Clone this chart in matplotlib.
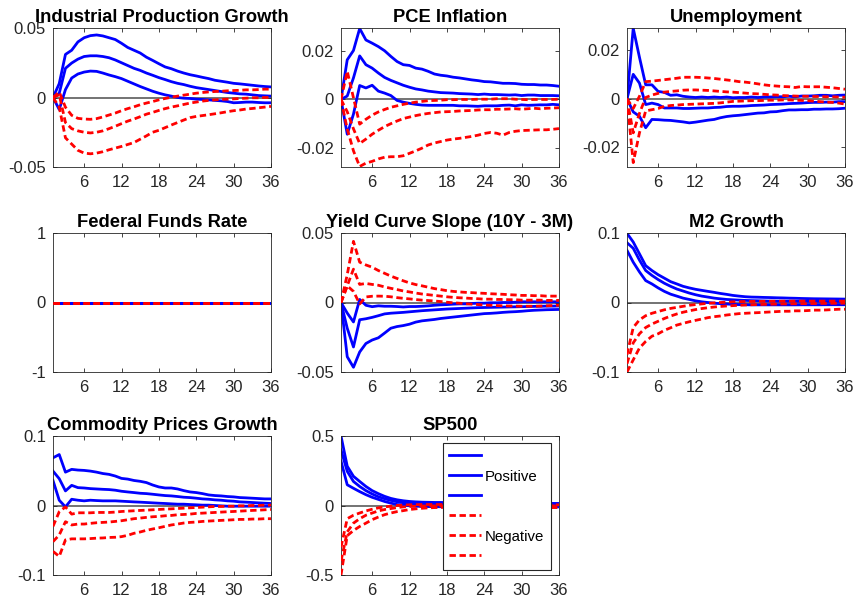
import numpy as np
import matplotlib
matplotlib.use('Agg')
import matplotlib.pyplot as plt
from matplotlib.ticker import FuncFormatter

plt.rcParams['font.family'] = ['Liberation Sans', 'DejaVu Sans']

# impulse responses, horizons 1..36 (upper / median / lower bands)
horizon = np.arange(1, 37)

ip_pos_hi = [0, 0.010, 0.031, 0.034, 0.040, 0.043, 0.0445, 0.045, 0.0443, 0.043, 0.0417, 0.039, 0.036, 0.034, 0.032, 0.029, 0.0267, 0.0243, 0.022, 0.0207, 0.019, 0.0176, 0.0164, 0.0155, 0.0145, 0.0136, 0.0124, 0.0117, 0.011, 0.0102, 0.0098, 0.0093, 0.0088, 0.0083, 0.0079, 0.0076]
ip_pos_mid = [0, 0.003, 0.021, 0.0248, 0.0276, 0.0295, 0.030, 0.030, 0.0295, 0.0286, 0.027, 0.025, 0.023, 0.021, 0.0195, 0.0176, 0.016, 0.0143, 0.0129, 0.0114, 0.0102, 0.0093, 0.0081, 0.0071, 0.0064, 0.0057, 0.005, 0.0043, 0.0036, 0.0031, 0.0026, 0.0024, 0.0019, 0.0014, 0.0012, 0.001]
ip_pos_lo = [0, -0.0086, 0.0057, 0.014, 0.0169, 0.0183, 0.019, 0.0188, 0.0176, 0.0162, 0.015, 0.0136, 0.0117, 0.0098, 0.0079, 0.0062, 0.0045, 0.0031, 0.0019, 0.001, 0.0, -0.0005, -0.0007, -0.0012, -0.0014, -0.0017, -0.0021, -0.0024, -0.0029, -0.0038, -0.0036, -0.0033, -0.0033, -0.0036, -0.0038, -0.0038]
ip_neg_hi = [0, 0.004, -0.007, -0.0128, -0.015, -0.0155, -0.0157, -0.0152, -0.014, -0.0126, -0.0112, -0.0095, -0.008, -0.0067, -0.0052, -0.004, -0.0029, -0.0017, -0.0007, 0.0002, 0.001, 0.0017, 0.0024, 0.0031, 0.0036, 0.004, 0.0043, 0.0045, 0.0048, 0.005, 0.0052, 0.0055, 0.0055, 0.0057, 0.006, 0.006]
ip_neg_mid = [0, 0.002, -0.018, -0.0224, -0.024, -0.025, -0.0255, -0.025, -0.024, -0.0224, -0.0207, -0.0188, -0.017, -0.0155, -0.0138, -0.012, -0.0107, -0.0093, -0.008, -0.0069, -0.006, -0.005, -0.004, -0.0033, -0.0026, -0.0021, -0.0017, -0.0014, -0.0012, -0.001, -0.0007, -0.0005, -0.0002, -0.0002, 0.0, 0.0]
ip_neg_lo = [0, -0.007, -0.029, -0.0335, -0.038, -0.040, -0.0405, -0.040, -0.039, -0.0376, -0.0364, -0.0352, -0.0338, -0.0324, -0.030, -0.0276, -0.025, -0.0236, -0.0217, -0.0198, -0.018, -0.0162, -0.0145, -0.0136, -0.013, -0.0124, -0.0117, -0.011, -0.0102, -0.0095, -0.009, -0.0083, -0.0079, -0.0074, -0.0069, -0.0064]

pce_pos_hi = [0, 0.0162, 0.020, 0.029, 0.0243, 0.023, 0.0216, 0.0199, 0.0176, 0.0155, 0.0142, 0.0139, 0.0128, 0.0124, 0.0115, 0.0104, 0.0099, 0.0096, 0.0091, 0.0088, 0.0084, 0.008, 0.0077, 0.0073, 0.0072, 0.0069, 0.0066, 0.0066, 0.0065, 0.0062, 0.0061, 0.0061, 0.0059, 0.0059, 0.0057, 0.0054]
pce_pos_mid = [0, 0.0014, 0.0088, 0.0178, 0.0142, 0.0128, 0.0108, 0.009, 0.0078, 0.0068, 0.0058, 0.005, 0.0043, 0.0039, 0.0034, 0.0031, 0.0028, 0.0027, 0.0026, 0.0024, 0.0023, 0.0022, 0.002, 0.0022, 0.002, 0.002, 0.0019, 0.0018, 0.0019, 0.0016, 0.0018, 0.0018, 0.0016, 0.0016, 0.0016, 0.0015]
pce_pos_lo = [0, -0.0142, -0.006, 0.0057, 0.0047, 0.0058, 0.0034, 0.0026, 0.0016, -0.0004, -0.0011, -0.0016, -0.002, -0.0023, -0.0024, -0.0024, -0.0024, -0.0024, -0.0024, -0.0026, -0.0026, -0.0027, -0.0028, -0.0026, -0.0026, -0.0026, -0.0024, -0.0023, -0.0026, -0.0022, -0.0024, -0.0023, -0.0022, -0.0022, -0.002, -0.0022]
pce_neg_hi = [0, 0.0115, 0.0007, -0.0101, -0.0081, -0.0064, -0.0051, -0.0041, -0.0032, -0.0026, -0.002, -0.0015, -0.0011, -0.0008, -0.0005, -0.0004, -0.0003, -0.0001, -0.0001, 0.0, 0.0, 0.0, 0.0001, 0.0001, 0.0001, 0.0003, 0.0003, 0.0003, 0.0001, 0.0, -0.0001, 0.0, 0.0, 0.0, 0.0, 0.0001]
pce_neg_mid = [0, -0.005, -0.012, -0.018, -0.0162, -0.0142, -0.0126, -0.0111, -0.0099, -0.0088, -0.0078, -0.0072, -0.0066, -0.0061, -0.0057, -0.0054, -0.0051, -0.005, -0.0049, -0.0047, -0.0046, -0.0045, -0.0043, -0.0042, -0.0042, -0.004, -0.004, -0.0039, -0.0038, -0.004, -0.0038, -0.0036, -0.0038, -0.0036, -0.0035, -0.0034]
pce_neg_lo = [0, -0.012, -0.021, -0.0274, -0.026, -0.0253, -0.0243, -0.0236, -0.0234, -0.0234, -0.023, -0.022, -0.021, -0.0199, -0.0186, -0.0178, -0.0172, -0.0166, -0.0162, -0.0159, -0.0155, -0.0151, -0.0146, -0.0139, -0.0135, -0.0138, -0.0146, -0.0135, -0.013, -0.0127, -0.0126, -0.0125, -0.0124, -0.0124, -0.0122, -0.0119]

un_pos_hi = [0, 0.0289, 0.017, 0.0057, 0.0057, 0.003, 0.0026, 0.0014, 0.0016, 0.001, 0.0007, 0.0005, 0.0007, 0.0005, 0.0007, 0.0005, 0.0007, 0.0004, 0.0005, 0.0005, 0.0007, 0.0005, 0.0007, 0.0007, 0.0008, 0.0008, 0.001, 0.0008, 0.0011, 0.0011, 0.0012, 0.0014, 0.0014, 0.0012, 0.0014, 0.0015]
un_pos_mid = [0, 0.010, 0.0064, -0.0024, -0.0018, -0.0024, -0.0038, -0.0038, -0.0038, -0.004, -0.004, -0.0039, -0.0038, -0.0038, -0.0036, -0.0035, -0.0032, -0.0031, -0.0031, -0.003, -0.0028, -0.0027, -0.0026, -0.0024, -0.0023, -0.0022, -0.002, -0.0019, -0.0018, -0.0016, -0.0015, -0.0015, -0.0014, -0.0014, -0.0012, -0.0012]
un_pos_lo = [0, -0.0054, -0.0072, -0.0119, -0.0085, -0.0086, -0.0088, -0.0089, -0.0092, -0.0095, -0.0099, -0.0096, -0.0092, -0.0088, -0.0085, -0.0078, -0.0073, -0.007, -0.0068, -0.0065, -0.0062, -0.0059, -0.0058, -0.0054, -0.0053, -0.0049, -0.0046, -0.0046, -0.0045, -0.0045, -0.0043, -0.0043, -0.0042, -0.0042, -0.0041, -0.0039]
un_neg_hi = [0, -0.004, 0.001, 0.007, 0.0072, 0.0075, 0.0078, 0.0081, 0.0084, 0.0088, 0.0088, 0.0088, 0.0087, 0.0085, 0.0083, 0.008, 0.0077, 0.0074, 0.007, 0.0068, 0.0065, 0.0061, 0.0057, 0.0054, 0.0052, 0.005, 0.0049, 0.0046, 0.005, 0.0049, 0.0049, 0.0049, 0.0047, 0.0045, 0.0042, 0.0039]
un_neg_mid = [0, -0.014, -0.006, 0.0005, 0.0015, 0.0022, 0.0027, 0.003, 0.0032, 0.0035, 0.0036, 0.0036, 0.0035, 0.0034, 0.0032, 0.003, 0.0028, 0.0027, 0.0025, 0.0023, 0.0021, 0.002, 0.0018, 0.0016, 0.0015, 0.0013, 0.0012, 0.0011, 0.001, 0.001, 0.0009, 0.0009, 0.0008, 0.0008, 0.0007, 0.0006]
un_neg_lo = [0, -0.0262, -0.014, -0.005, -0.0045, -0.004, -0.0031, -0.0028, -0.0026, -0.0024, -0.0023, -0.0022, -0.0021, -0.002, -0.0019, -0.0017, -0.0014, -0.0011, -0.001, -0.0009, -0.0008, -0.0008, -0.0007, -0.0006, -0.0006, -0.0005, -0.0005, -0.0006, -0.0007, -0.0008, -0.001, -0.0012, -0.0014, -0.0015, -0.0018, -0.0022]

# the funds rate is the shock variable: flat at zero
ffr_irf = [0, 0, 0, 0, 0, 0, 0, 0, 0, 0, 0, 0, 0, 0, 0, 0, 0, 0, 0, 0, 0, 0, 0, 0, 0, 0, 0, 0, 0, 0, 0, 0, 0, 0, 0, 0]

yc_pos_hi = [0, -0.0076, -0.014, 0.0022, -0.002, -0.003, -0.0024, -0.0027, -0.0027, -0.0029, -0.0032, -0.0029, -0.0029, -0.0027, -0.0024, -0.002, -0.0017, -0.0015, -0.0012, -0.001, -0.001, -0.0007, -0.0005, -0.0005, -0.0002, -0.0002, 0.0, 0.0, 0.0002, 0.0005, 0.0005, 0.0005, 0.0005, 0.0005, 0.0005, 0.0005]
yc_pos_mid = [0, -0.0185, -0.032, -0.0124, -0.0117, -0.0107, -0.0095, -0.0082, -0.0077, -0.0074, -0.0071, -0.0067, -0.0063, -0.0059, -0.0056, -0.0053, -0.005, -0.0047, -0.0045, -0.0043, -0.0041, -0.0039, -0.0037, -0.0036, -0.0035, -0.0034, -0.0033, -0.0032, -0.0031, -0.003, -0.0029, -0.0028, -0.0027, -0.0026, -0.0026, -0.0025]
yc_pos_lo = [0, -0.039, -0.0466, -0.0356, -0.0295, -0.027, -0.0254, -0.022, -0.0185, -0.0173, -0.0166, -0.0156, -0.0141, -0.0132, -0.0127, -0.0122, -0.0115, -0.011, -0.0105, -0.01, -0.0095, -0.009, -0.0085, -0.008, -0.0078, -0.0075, -0.0071, -0.0068, -0.0066, -0.0063, -0.0059, -0.0056, -0.0054, -0.0052, -0.0051, -0.005]
yc_neg_hi = [0, 0.02, 0.044, 0.029, 0.027, 0.0254, 0.023, 0.021, 0.019, 0.0173, 0.0156, 0.0141, 0.0129, 0.012, 0.011, 0.010, 0.0093, 0.0085, 0.008, 0.0076, 0.0073, 0.0071, 0.0068, 0.0066, 0.0063, 0.0061, 0.0059, 0.0056, 0.0054, 0.0051, 0.0051, 0.0049, 0.0049, 0.0046, 0.0046, 0.0046]
yc_neg_mid = [0, 0.012, 0.024, 0.013, 0.0137, 0.013, 0.0124, 0.0112, 0.0102, 0.0093, 0.0083, 0.0076, 0.0068, 0.0061, 0.0056, 0.0051, 0.0046, 0.0041, 0.0037, 0.0034, 0.0032, 0.0029, 0.0027, 0.0024, 0.0024, 0.0022, 0.0022, 0.002, 0.002, 0.0017, 0.0017, 0.0017, 0.0017, 0.0015, 0.0015, 0.0015]
yc_neg_lo = [0, 0.012, 0.008, -0.001, 0.004, 0.0045, 0.0046, 0.0045, 0.0041, 0.0035, 0.003, 0.0026, 0.0021, 0.0017, 0.0014, 0.0011, 0.0007, 0.0002, -0.0002, -0.0005, -0.0009, -0.0012, -0.0015, -0.0018, -0.002, -0.0022, -0.0024, -0.0025, -0.0026, -0.0027, -0.0027, -0.0027, -0.0026, -0.0024, -0.0022, -0.002]

m2_pos_hi = [0.0995, 0.087, 0.070, 0.053, 0.046, 0.040, 0.035, 0.030, 0.0267, 0.0233, 0.021, 0.019, 0.0175, 0.016, 0.0146, 0.013, 0.0117, 0.0102, 0.0092, 0.0083, 0.0078, 0.0076, 0.0073, 0.0071, 0.0068, 0.0066, 0.0063, 0.0061, 0.0058, 0.0056, 0.0054, 0.0053, 0.0052, 0.0051, 0.005, 0.0049]
m2_pos_mid = [0.086, 0.078, 0.061, 0.046, 0.039, 0.033, 0.0277, 0.0233, 0.0194, 0.0165, 0.0136, 0.0112, 0.0092, 0.0078, 0.0063, 0.0053, 0.0044, 0.0039, 0.0034, 0.003, 0.0027, 0.0025, 0.0022, 0.002, 0.0019, 0.0018, 0.0018, 0.0017, 0.0017, 0.0016, 0.0016, 0.0016, 0.0015, 0.0015, 0.0015, 0.0015]
m2_pos_lo = [0.075, 0.058, 0.044, 0.0315, 0.0267, 0.021, 0.016, 0.012, 0.0092, 0.0063, 0.0044, 0.0024, 0.001, 0.0, -0.001, -0.0017, -0.0022, -0.0027, -0.003, -0.0032, -0.0034, -0.0034, -0.0034, -0.0034, -0.0034, -0.0034, -0.0034, -0.0034, -0.0033, -0.0033, -0.0033, -0.0033, -0.0032, -0.0032, -0.0032, -0.0032]
m2_neg_hi = [-0.075, -0.036, -0.025, -0.019, -0.0155, -0.013, -0.0105, -0.0085, -0.007, -0.0055, -0.004, -0.003, -0.002, -0.0012, -0.0005, 0.0, 0.0005, 0.001, 0.0012, 0.0014, 0.0015, 0.0016, 0.0017, 0.0018, 0.0018, 0.0019, 0.0019, 0.002, 0.002, 0.002, 0.002, 0.002, 0.002, 0.002, 0.002, 0.002]
m2_neg_mid = [-0.088, -0.058, -0.045, -0.036, -0.031, -0.027, -0.023, -0.0195, -0.0165, -0.014, -0.012, -0.0102, -0.0087, -0.0075, -0.0065, -0.0057, -0.005, -0.0045, -0.004, -0.0036, -0.0032, -0.003, -0.0027, -0.0025, -0.0023, -0.0021, -0.002, -0.0018, -0.0017, -0.0016, -0.0015, -0.0014, -0.0013, -0.0012, -0.0011, -0.001]
m2_neg_lo = [-0.1, -0.0825, -0.0655, -0.056, -0.0485, -0.045, -0.040, -0.0364, -0.0325, -0.030, -0.0277, -0.0257, -0.0238, -0.0218, -0.0204, -0.0194, -0.018, -0.017, -0.016, -0.0155, -0.015, -0.0146, -0.0141, -0.0136, -0.0131, -0.0126, -0.0126, -0.012, -0.012, -0.0116, -0.011, -0.011, -0.0107, -0.0102, -0.0097, -0.0097]

com_pos_hi = [0.0686, 0.0733, 0.048, 0.052, 0.051, 0.0505, 0.0495, 0.048, 0.046, 0.0448, 0.0424, 0.039, 0.038, 0.036, 0.0348, 0.033, 0.0295, 0.0267, 0.0252, 0.0252, 0.0238, 0.0214, 0.0195, 0.0186, 0.0171, 0.0152, 0.0143, 0.0138, 0.0129, 0.0124, 0.0114, 0.011, 0.0105, 0.01, 0.0095, 0.0095]
com_pos_mid = [0.0495, 0.0386, 0.021, 0.029, 0.0257, 0.0252, 0.0243, 0.0238, 0.0233, 0.0229, 0.022, 0.0205, 0.0195, 0.0186, 0.0176, 0.0171, 0.0162, 0.0152, 0.0143, 0.0138, 0.0129, 0.0119, 0.0114, 0.0105, 0.0095, 0.009, 0.0081, 0.0076, 0.0067, 0.0062, 0.0052, 0.0048, 0.0043, 0.0038, 0.0033, 0.0029]
com_pos_lo = [0.036, 0.0076, -0.002, 0.009, 0.0076, 0.0067, 0.0076, 0.0071, 0.0067, 0.0067, 0.0067, 0.0062, 0.0057, 0.0052, 0.0048, 0.0043, 0.0038, 0.0033, 0.0029, 0.0024, 0.0019, 0.0019, 0.0014, 0.001, 0.0005, 0.0005, 0.0, -0.0005, -0.001, -0.001, -0.001, -0.001, -0.001, -0.001, -0.001, -0.001]
com_neg_hi = [-0.03, -0.009, -0.002, -0.0124, -0.0105, -0.0105, -0.0105, -0.01, -0.01, -0.01, -0.0095, -0.0086, -0.0081, -0.0076, -0.0071, -0.0067, -0.0062, -0.0057, -0.0052, -0.0048, -0.0043, -0.0038, -0.0033, -0.0029, -0.0024, -0.0019, -0.0014, -0.0014, -0.001, -0.001, -0.0005, -0.0005, 0.0, 0.0, 0.0005, 0.0005]
com_neg_mid = [-0.052, -0.0424, -0.0233, -0.028, -0.0267, -0.0267, -0.0257, -0.0248, -0.0243, -0.0238, -0.0229, -0.0219, -0.0205, -0.019, -0.0181, -0.0171, -0.0162, -0.0157, -0.0148, -0.0143, -0.0133, -0.0129, -0.0124, -0.0114, -0.011, -0.0105, -0.01, -0.0095, -0.009, -0.0086, -0.0081, -0.0076, -0.0071, -0.0067, -0.0062, -0.0057]
com_neg_lo = [-0.066, -0.0733, -0.0495, -0.048, -0.048, -0.048, -0.0476, -0.047, -0.0467, -0.046, -0.0457, -0.0448, -0.0429, -0.04, -0.0381, -0.0357, -0.0338, -0.032, -0.03, -0.028, -0.0267, -0.0252, -0.0243, -0.0238, -0.0229, -0.0224, -0.0219, -0.0214, -0.021, -0.0205, -0.02, -0.02, -0.0195, -0.0195, -0.019, -0.019]

sp_pos_hi = [0.5, 0.283, 0.21, 0.173, 0.137, 0.107, 0.085, 0.066, 0.051, 0.041, 0.034, 0.029, 0.026, 0.024, 0.023, 0.022, 0.022, 0.021, 0.021, 0.02, 0.02, 0.02, 0.019, 0.019, 0.018, 0.018, 0.018, 0.017, 0.017, 0.017, 0.016, 0.016, 0.016, 0.015, 0.015, 0.015]
sp_pos_mid = [0.4, 0.246, 0.173, 0.137, 0.107, 0.083, 0.063, 0.049, 0.037, 0.027, 0.02, 0.015, 0.012, 0.01, 0.009, 0.008, 0.008, 0.007, 0.007, 0.007, 0.006, 0.006, 0.006, 0.006, 0.006, 0.005, 0.005, 0.005, 0.005, 0.005, 0.005, 0.005, 0.005, 0.005, 0.005, 0.005]
sp_pos_lo = [0.32, 0.149, 0.124, 0.1, 0.078, 0.059, 0.044, 0.029, 0.017, 0.007, 0.002, -0.002, -0.005, -0.007, -0.008, -0.008, -0.009, -0.009, -0.009, -0.009, -0.009, -0.01, -0.01, -0.01, -0.01, -0.01, -0.01, -0.01, -0.01, -0.01, -0.01, -0.01, -0.01, -0.01, -0.01, -0.01]
sp_neg_hi = [-0.3, -0.095, -0.07, -0.054, -0.039, -0.027, -0.017, -0.01, -0.005, 0.0, 0.003, 0.005, 0.006, 0.007, 0.007, 0.007, 0.007, 0.007, 0.007, 0.006, 0.006, 0.006, 0.006, 0.006, 0.006, 0.006, 0.005, 0.005, 0.005, 0.005, 0.005, 0.005, 0.005, 0.005, 0.005, 0.005]
sp_neg_mid = [-0.4, -0.19, -0.127, -0.095, -0.07, -0.054, -0.039, -0.029, -0.022, -0.015, -0.01, -0.007, -0.005, -0.004, -0.003, -0.003, -0.003, -0.003, -0.003, -0.003, -0.003, -0.003, -0.003, -0.003, -0.003, -0.003, -0.003, -0.003, -0.003, -0.003, -0.003, -0.003, -0.003, -0.003, -0.003, -0.003]
sp_neg_lo = [-0.5, -0.217, -0.18, -0.151, -0.127, -0.102, -0.083, -0.066, -0.054, -0.044, -0.037, -0.029, -0.024, -0.02, -0.017, -0.015, -0.014, -0.013, -0.013, -0.013, -0.013, -0.013, -0.013, -0.014, -0.014, -0.014, -0.015, -0.015, -0.015, -0.015, -0.015, -0.015, -0.015, -0.015, -0.015, -0.015]

titles = ["Industrial Production Growth", "PCE Inflation", "Unemployment",
          "Federal Funds Rate", "Yield Curve Slope (10Y - 3M)", "M2 Growth",
          "Commodity Prices Growth", "SP500"]
pos_bands = [(ip_pos_hi, ip_pos_mid, ip_pos_lo), (pce_pos_hi, pce_pos_mid, pce_pos_lo),
             (un_pos_hi, un_pos_mid, un_pos_lo), (ffr_irf, ffr_irf, ffr_irf),
             (yc_pos_hi, yc_pos_mid, yc_pos_lo), (m2_pos_hi, m2_pos_mid, m2_pos_lo),
             (com_pos_hi, com_pos_mid, com_pos_lo), (sp_pos_hi, sp_pos_mid, sp_pos_lo)]
neg_bands = [(ip_neg_hi, ip_neg_mid, ip_neg_lo), (pce_neg_hi, pce_neg_mid, pce_neg_lo),
             (un_neg_hi, un_neg_mid, un_neg_lo), (ffr_irf, ffr_irf, ffr_irf),
             (yc_neg_hi, yc_neg_mid, yc_neg_lo), (m2_neg_hi, m2_neg_mid, m2_neg_lo),
             (com_neg_hi, com_neg_mid, com_neg_lo), (sp_neg_hi, sp_neg_mid, sp_neg_lo)]
y_limits = [(-0.05, 0.05), (-0.0276, 0.0292), (-0.028, 0.029), (-1, 1),
            (-0.05, 0.05), (-0.1, 0.1), (-0.1, 0.1), (-0.5, 0.5)]
y_ticks = [[-0.05, 0, 0.05], [-0.02, 0, 0.02], [-0.02, 0, 0.02], [-1, 0, 1],
           [-0.05, 0, 0.05], [-0.1, 0, 0.1], [-0.1, 0, 0.1], [-0.5, 0, 0.5]]
x_ticks = [6, 12, 18, 24, 30, 36]
legend_labels = ['', 'Positive', '', '', 'Negative', '']

FW, FH = 857, 601
col_left = [53, 341, 627]
row_top = [28, 233, 436]
AW, AH = 218, 139
dark = '#262626'

fig = plt.figure(figsize=(FW / 100, FH / 100), dpi=100)

for k, title in enumerate(titles):
    r, c = divmod(k, 3)
    ax = fig.add_axes([col_left[c] / FW, 1 - (row_top[r] + AH) / FH, AW / FW, AH / FH])
    ax.axhline(0, color='0.3', lw=1.1, zorder=1)
    lines = []
    for band in pos_bands[k]:
        lines += ax.plot(horizon, band, color=(0, 0, 1), lw=2.0, zorder=2)
    for band in neg_bands[k]:
        lines += ax.plot(horizon, band, color=(1, 0, 0), lw=2.0,
                         linestyle=(0, (2.3, 1.3)), zorder=3)
    ax.set_xlim(1, 36)
    ax.set_ylim(*y_limits[k])
    ax.set_xticks(x_ticks)
    ax.set_yticks(y_ticks[k])
    ax.yaxis.set_major_formatter(FuncFormatter(lambda v, p: f"{v:g}"))
    ax.tick_params(direction='in', length=3, width=0.6, top=True, right=True,
                   labelsize=12, colors=dark)
    ax.tick_params(axis='x', pad=6)
    ax.tick_params(axis='y', pad=5)
    for s in ax.spines.values():
        s.set_linewidth(0.6)
        s.set_color(dark)
    ax.set_title(title, fontsize=13.2, fontweight='bold', pad=4)

    if title == "SP500":
        leg = ax.legend(lines, legend_labels, loc='upper left',
                        bbox_to_anchor=(0.466, 0.951), fontsize=10.8,
                        handlelength=2.1, handletextpad=0.25, labelspacing=0.4,
                        borderpad=0.45, borderaxespad=0, frameon=True,
                        fancybox=False, framealpha=1)
        leg.get_frame().set_edgecolor(dark)
        leg.get_frame().set_linewidth(0.8)
        leg.set_zorder(5)

fig.savefig('out.png', dpi=100)
